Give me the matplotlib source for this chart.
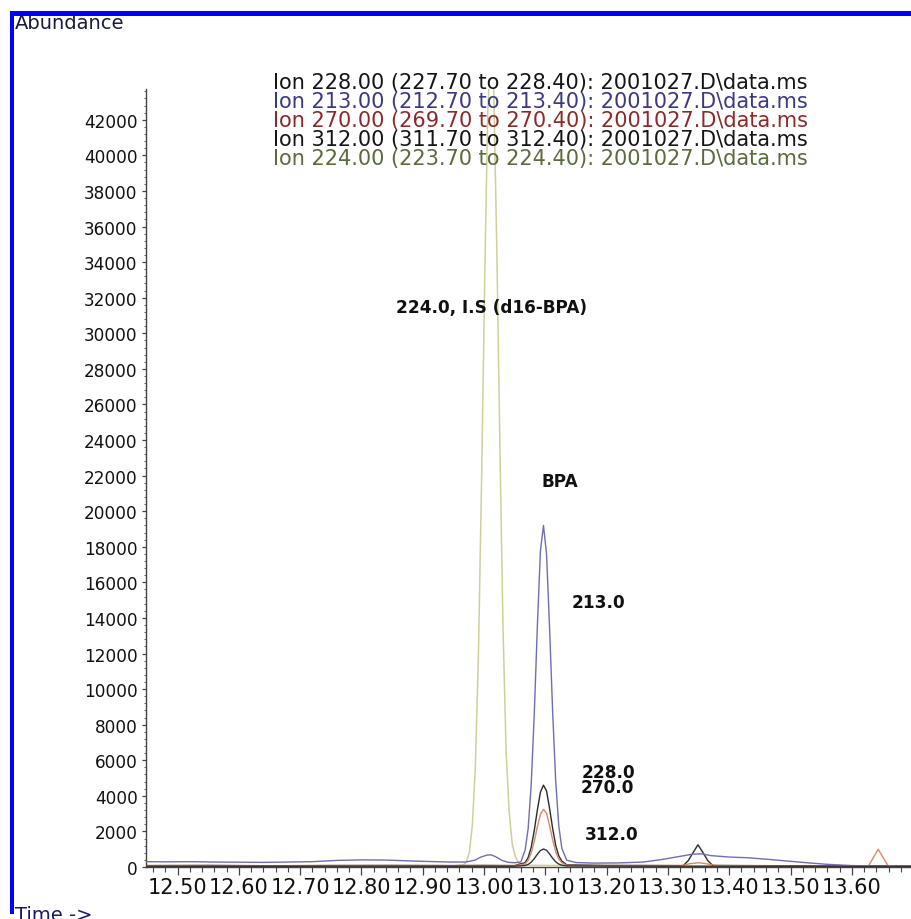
import matplotlib
matplotlib.use("Agg")
import matplotlib.pyplot as plt
from matplotlib.patches import Rectangle
from matplotlib.ticker import MultipleLocator

plt.rcParams['font.family'] = ['DejaVu Sans']

# ---------------- data ----------------
legend_labels = [
    "Ion 228.00 (227.70 to 228.40): 2001027.D\\data.ms",
    "Ion 213.00 (212.70 to 213.40): 2001027.D\\data.ms",
    "Ion 270.00 (269.70 to 270.40): 2001027.D\\data.ms",
    "Ion 312.00 (311.70 to 312.40): 2001027.D\\data.ms",
    "Ion 224.00 (223.70 to 224.40): 2001027.D\\data.ms",
]

t228 = [12.449, 12.55, 12.65, 12.75, 12.85, 12.95, 13.00, 13.05, 13.067, 13.072, 13.077,
        13.082, 13.087, 13.092, 13.097, 13.102, 13.107, 13.112, 13.117, 13.122, 13.127,
        13.135, 13.20, 13.28, 13.325, 13.333, 13.341, 13.349, 13.357, 13.365, 13.373,
        13.42, 13.50, 13.60, 13.698]
a228 = [80, 90, 70, 85, 90, 80, 90, 80, 240, 530, 1110,
        2050, 3200, 4200, 4600, 4280, 3290, 2160, 1210, 620, 330,
        120, 90, 85, 80, 350, 800, 1250, 820, 360, 90,
        80, 70, 60, 50]

t213 = [12.449, 12.48, 12.52, 12.56, 12.60, 12.64, 12.68, 12.72, 12.76, 12.80, 12.84,
        12.88, 12.92, 12.95, 12.97, 12.985, 12.995, 13.005, 13.012, 13.02, 13.03, 13.04,
        13.05, 13.06, 13.067, 13.072, 13.077, 13.082, 13.087, 13.092, 13.097, 13.102,
        13.107, 13.112, 13.117, 13.122, 13.127, 13.135, 13.15, 13.18, 13.22, 13.26,
        13.29, 13.32, 13.34, 13.355, 13.37, 13.40, 13.43, 13.46, 13.50, 13.53, 13.56,
        13.60, 13.65, 13.698]
a213 = [300, 290, 300, 280, 270, 260, 280, 300, 370, 400, 390,
        340, 300, 280, 280, 380, 560, 670, 680, 560, 360, 260,
        240, 280, 940, 2150, 4620, 8600, 13500, 17750, 19200, 17600,
        13400, 8700, 4800, 2300, 1050, 380, 250, 220, 230, 280,
        420, 600, 720, 740, 640, 560, 520, 440, 320, 230, 150,
        80, 50, 40]

t270 = [12.449, 12.60, 12.80, 12.95, 13.05, 13.067, 13.072, 13.077, 13.082, 13.087,
        13.092, 13.097, 13.102, 13.107, 13.112, 13.117, 13.122, 13.127, 13.135, 13.20,
        13.32, 13.335, 13.35, 13.365, 13.38, 13.50, 13.615, 13.627, 13.635, 13.643,
        13.651, 13.659, 13.67, 13.698]
a270 = [60, 50, 60, 55, 60, 175, 375, 785, 1440, 2260,
        2960, 3240, 3020, 2320, 1520, 855, 440, 235, 90, 60,
        60, 180, 240, 170, 70, 50, 40, 60, 520, 1000,
        540, 80, 40, 40]

t312 = [12.449, 12.60, 12.80, 12.95, 13.05, 13.067, 13.072, 13.077, 13.082, 13.087,
        13.092, 13.097, 13.102, 13.107, 13.112, 13.117, 13.122, 13.127, 13.135, 13.25,
        13.45, 13.698]
a312 = [40, 35, 45, 40, 45, 85, 145, 270, 470, 715,
        925, 1010, 945, 730, 490, 290, 165, 100, 60, 45,
        40, 35]

t224 = [12.449, 12.60, 12.80, 12.95, 12.966, 12.971, 12.976, 12.981, 12.986, 12.991,
        12.996, 13.001, 13.006, 13.011, 13.016, 13.021, 13.026, 13.031, 13.036, 13.041,
        13.046, 13.051, 13.056, 13.061, 13.20, 13.40, 13.698]
a224 = [60, 55, 65, 60, 110, 280, 800, 2360, 5730, 12100,
        21700, 32700, 42300, 46500, 43500, 34500, 23500, 13450, 6530, 3100,
        1300, 600, 250, 100, 60, 55, 50]

annotations = [
    ("224.0, I.S (d16-BPA)", 12.8564, 31480),
    ("BPA", 13.0941, 21715),
    ("213.0", 13.1431, 14896),
    ("228.0", 13.1595, 5357),
    ("270.0", 13.1579, 4480),
    ("312.0", 13.1637, 1855),
]

x_ticks = [12.50, 12.60, 12.70, 12.80, 12.90, 13.00, 13.10, 13.20, 13.30, 13.40, 13.50, 13.60]
y_ticks = list(range(0, 42001, 2000))

# ---------------- styling ----------------
line_colors = ["#2b2b2b", "#6e6eb4", "#d68a66", "#333333", "#cfcf9c"]
text_colors = ["#151515", "#3a3a82", "#8c2a2a", "#151515", "#5b6b3c"]

W, H = 912, 920
fig = plt.figure(figsize=(W / 100, H / 100), dpi=100)
fig.patch.set_facecolor("white")

ax_left, ax_right, ax_top, ax_bottom = 146, 912, 90, 868
ax = fig.add_axes([ax_left / W, (H - ax_bottom) / H, (ax_right - ax_left) / W, (ax_bottom - ax_top) / H])

series = [(t228, a228), (t213, a213), (t270, a270), (t312, a312)]
for (t, a), c in zip(series, line_colors[:4]):
    ax.plot(t, a, color=c, lw=1.0, zorder=3)
ax.plot(t224, a224, color=line_colors[4], lw=1.1, zorder=2)

ax.set_xlim(12.4486, 13.6982)
ax.set_ylim(0, 43730)

for s in ["top", "right"]:
    ax.spines[s].set_visible(False)
for s in ["left", "bottom"]:
    ax.spines[s].set_color("#444444")
    ax.spines[s].set_linewidth(1.0)

ax.set_xticks(x_ticks)
ax.set_xticklabels([f"{v:.2f}" for v in x_ticks])
ax.xaxis.set_minor_locator(MultipleLocator(0.02))
ax.set_yticks(y_ticks)
ax.set_yticklabels([str(v) for v in y_ticks])
ax.yaxis.set_minor_locator(MultipleLocator(400))

ax.tick_params(axis="x", which="major", length=5.4, width=0.9, color="#444444",
               labelsize=15, pad=2, labelcolor="#111111")
ax.tick_params(axis="x", which="minor", length=3.4, width=0.8, color="#444444")
ax.tick_params(axis="y", which="major", length=3, width=0.9, color="#444444",
               labelsize=12.2, pad=3, labelcolor="#111111")
ax.tick_params(axis="y", which="minor", length=1.5, width=0.7, color="#666666")

for txt, x, y in annotations:
    ax.text(x, y, txt, fontsize=12.2, fontweight="bold", ha="left", va="center",
            color="#111111", zorder=5)

# legend lines (chromatogram header)
rows = [82.5, 102, 121, 140, 159.5]
for lab, col, ry in zip(legend_labels, text_colors, rows):
    fig.text(273 / W, 1 - ry / H, lab, fontsize=15.0, color=col, ha="left", va="center", zorder=6)

# frame texts
fig.text(15 / W, 1 - 29 / H, "Abundance", fontsize=14, color="#1a1a40", ha="left", va="baseline")
fig.text(15 / W, 1 - 906 / H, "Time ->", fontsize=14, color="#1a1a60", ha="left", va="top")

# blue frame strips
fig.add_artist(Rectangle((10 / W, 1 - 17 / H), 1 - 10 / W, 5 / H, transform=fig.transFigure,
                         facecolor="#0000ff", edgecolor="none", zorder=10))
fig.add_artist(Rectangle((10 / W, 1 - 915 / H), 4 / W, (915 - 12) / H, transform=fig.transFigure,
                         facecolor="#0000ff", edgecolor="none", zorder=10))

fig.savefig("out.png", dpi=100)
